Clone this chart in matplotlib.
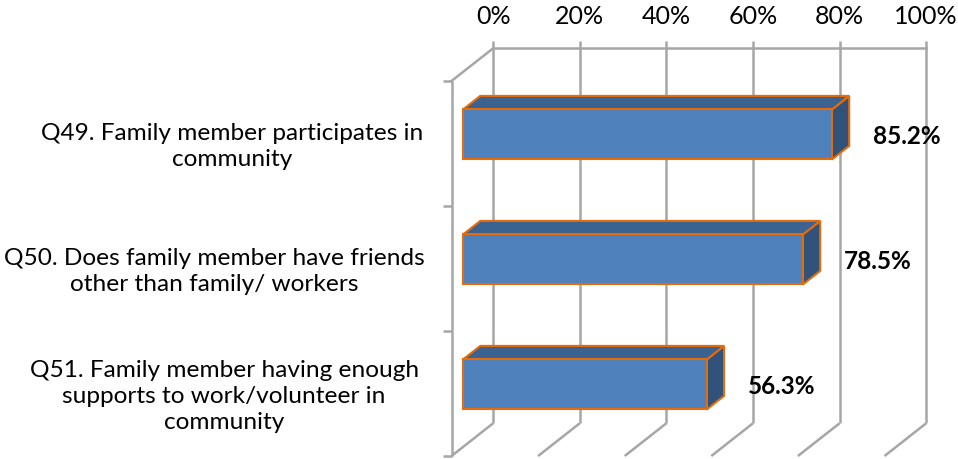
import matplotlib.pyplot as plt
from matplotlib.patches import Polygon

# Survey items, top to bottom
categories = [
    'Q49. Family member participates in\ncommunity',
    'Q50. Does family member have friends\nother than family/ workers',
    'Q51. Family member having enough\nsupports to work/volunteer in\ncommunity',
]
values = [85.2, 78.5, 56.3]
value_labels = ['85.2%', '78.5%', '56.3%']
ticks = [0, 20, 40, 60, 80, 100]
tick_labels = ['0%', '20%', '40%', '60%', '80%', '100%']

plt.rcParams['font.family'] = ['Lato', 'DejaVu Sans']

# pseudo-3d box: depth offset of the back wall in data units
DX, DY = 9.63, 0.262
F0, F1 = 0.276, 0.69      # bar front / back depth fractions
HALF = 0.2                # half bar height (category units)
label_x = [-50.7, -54.8, -52.5]   # centre of each category label block

front_col = '#4F81BD'
top_col = '#3C6291'
side_col = '#31527B'
edge_col = '#E46C0A'
grid_col = '#A6A6A6'

fig = plt.figure(figsize=(9.58, 4.59), dpi=100)
ax = fig.add_axes([0, 0, 1, 1])
ax.set_xlim(-104.27, 116.97)
ax.set_ylim(-0.024, 3.648)
ax.axis('off')

n = len(categories)
lw_grid = 1.8

# back wall gridlines (with small tick stubs above)
for t in ticks:
    ax.plot([t + DX, t + DX], [DY, n + DY + 0.056], color=grid_col, lw=lw_grid,
            solid_capstyle='butt')
    ax.plot([t, t + DX], [0, DY], color=grid_col, lw=lw_grid, solid_capstyle='butt')
ax.plot([DX, 100 + DX], [n + DY, n + DY], color=grid_col, lw=lw_grid)

# left wall and category ticks
ax.plot([0, 0], [0, n], color=grid_col, lw=lw_grid, solid_capstyle='butt')
ax.plot([0, DX], [n, n + DY], color=grid_col, lw=lw_grid)
for k in range(n + 1):
    ax.plot([-1.85, 0], [k, k], color=grid_col, lw=lw_grid, solid_capstyle='butt')

# top axis labels
for t, lab in zip(ticks, tick_labels):
    ax.text(t + DX, 3.512, lab, ha='center', va='center', fontsize=18)

x0, y0 = F0 * DX, F0 * DY
x1, y1 = F1 * DX, F1 * DY
for i, (cat, v, vl) in enumerate(zip(categories, values, value_labels)):
    c = n - i - 0.5
    lo, hi = c - HALF, c + HALF
    side = [(v + x0, lo + y0), (v + x1, lo + y1), (v + x1, hi + y1), (v + x0, hi + y0)]
    top = [(x0, hi + y0), (v + x0, hi + y0), (v + x1, hi + y1), (x1, hi + y1)]
    front = [(x0, lo + y0), (v + x0, lo + y0), (v + x0, hi + y0), (x0, hi + y0)]
    for poly, col in ((side, side_col), (top, top_col), (front, front_col)):
        ax.add_patch(Polygon(poly, closed=True, facecolor=col, edgecolor=edge_col,
                             lw=1.5, joinstyle='miter', zorder=3))
    ax.text(v + x0 + 9.5, c + y0, vl, ha='left', va='center_baseline',
            fontsize=17.5, fontweight='bold', zorder=4)
    ax.text(label_x[i], c - 0.024, cat, ha='center', va='center',
            multialignment='center', fontsize=17.6, linespacing=1.3)

fig.savefig('out.png', dpi=100)
